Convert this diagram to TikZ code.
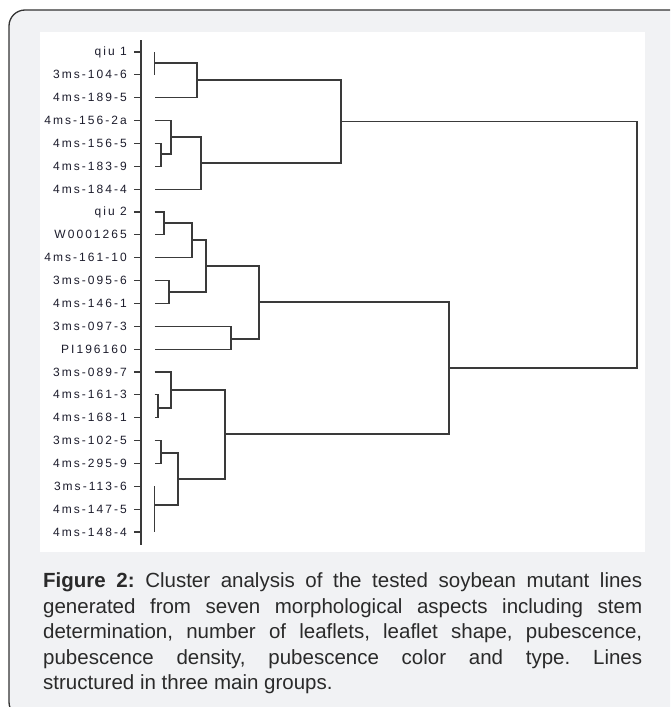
\documentclass[tikz,border=0pt]{standalone}
\usepackage{fontspec}
\setmainfont{Liberation Sans}
\newfontfamily\labfont[LetterSpace=17]{Liberation Sans}
\definecolor{panelgray}{HTML}{F1F2F4}
\definecolor{framecol}{HTML}{333333}
\definecolor{linecol}{HTML}{3A3A3A}
\definecolor{labcol}{HTML}{1C1C2C}
\definecolor{capcol}{HTML}{2A2A2A}
\tikzset{
  dline/.style={draw=linecol, line width=1.1pt},
  lab/.style={font=\labfont\fontsize{12}{14}\selectfont, text=labcol, inner sep=0pt, anchor=east},
  captext/.style={font=\fontsize{20.5}{25}\selectfont, text=capcol, inner sep=0pt, anchor=base west},
}
\newcommand\mrg[3]{\draw[dline] (#1) -| (#3) |- (#2);}
\frenchspacing
\begin{document}
\begin{tikzpicture}[x=1pt,y=-1pt]
\useasboundingbox (0,0) rectangle (670,707);
\begin{scope}
\clip (0,0) rectangle (670,707);
\draw[fill=panelgray, draw=framecol, line width=1.3pt, rounded corners=16pt] (9,10) rectangle (690,718);
\end{scope}
\fill[white] (40,32) rectangle (645,552);
% axis
\coordinate (atop) at (141,40);
\coordinate (abot) at (141,545);
\draw[dline] (atop) -- (abot);
% labels, ticks, leaves
\foreach \lab [count=\i] in {qiu 1,3ms-104-6,4ms-189-5,4ms-156-2a,4ms-156-5,4ms-183-9,4ms-184-4,qiu 2,W0001265,4ms-161-10,3ms-095-6,4ms-146-1,3ms-097-3,PI196160,3ms-089-7,4ms-161-3,4ms-168-1,3ms-102-5,4ms-295-9,3ms-113-6,4ms-147-5,4ms-148-4}{
  \pgfmathsetmacro\yy{52+(\i-1)*22.857}
  \node[lab] (t\i) at (127,\yy) {\lab};
  \coordinate (k\i) at (134,\yy);
  \coordinate (a\i) at (141,\yy);
  \coordinate (l\i) at (154.5,\yy);
  \draw[dline] (k\i) -- (a\i);
}
% merge points
\coordinate (m1) at (154.5,63);
\coordinate (m2) at (197,80);
\coordinate (m3) at (161,154);
\coordinate (m4) at (171,137);
\coordinate (m5) at (201,163);
\coordinate (m6) at (341,121.5);
\coordinate (m7) at (164,223);
\coordinate (m8) at (192,240);
\coordinate (m9) at (169,292);
\coordinate (m10) at (206,266);
\coordinate (m11) at (231,339);
\coordinate (m12) at (259,302);
\coordinate (m13) at (158,408);
\coordinate (m14) at (171,390);
\coordinate (m15) at (161,453);
\coordinate (m16) at (154.5,505);
\coordinate (m17) at (178,479);
\coordinate (m18) at (225,434);
\coordinate (m19) at (449,368);
\coordinate (m20) at (637,245);
% group 1
\draw[dline] (l1) -- (l2);
\mrg{m1}{l3}{m2}
\mrg{l5}{l6}{m3}
\mrg{l4}{m3}{m4}
\mrg{m4}{l7}{m5}
\mrg{m2}{m5}{m6}
% group 2
\mrg{l8}{l9}{m7}
\mrg{m7}{l10}{m8}
\mrg{l11}{l12}{m9}
\mrg{m8}{m9}{m10}
\mrg{l13}{l14}{m11}
\mrg{m10}{m11}{m12}
% group 3
\mrg{l16}{l17}{m13}
\mrg{l15}{m13}{m14}
\mrg{l18}{l19}{m15}
\draw[dline] (l20) -- (l22);
\mrg{m15}{m16}{m17}
\mrg{m14}{m17}{m18}
% top merges
\mrg{m12}{m18}{m19}
\mrg{m6}{m19}{m20}
% caption
\node[captext] (c1) at (43,587) {\makebox[599pt][s]{\textbf{Figure 2:} Cluster analysis of the tested soybean mutant lines}};
\node[captext] (c2) at (43,613) {\makebox[599pt][s]{generated from seven morphological aspects including stem}};
\node[captext] (c3) at (43,638.5) {\makebox[599pt][s]{determination, number of leaflets, leaflet shape, pubescence,}};
\node[captext] (c4) at (43,664) {\makebox[599pt][s]{pubescence density, pubescence color and type. Lines}};
\node[captext] (c5) at (43,689.5) {structured in three main groups.};
\end{tikzpicture}
\end{document}
